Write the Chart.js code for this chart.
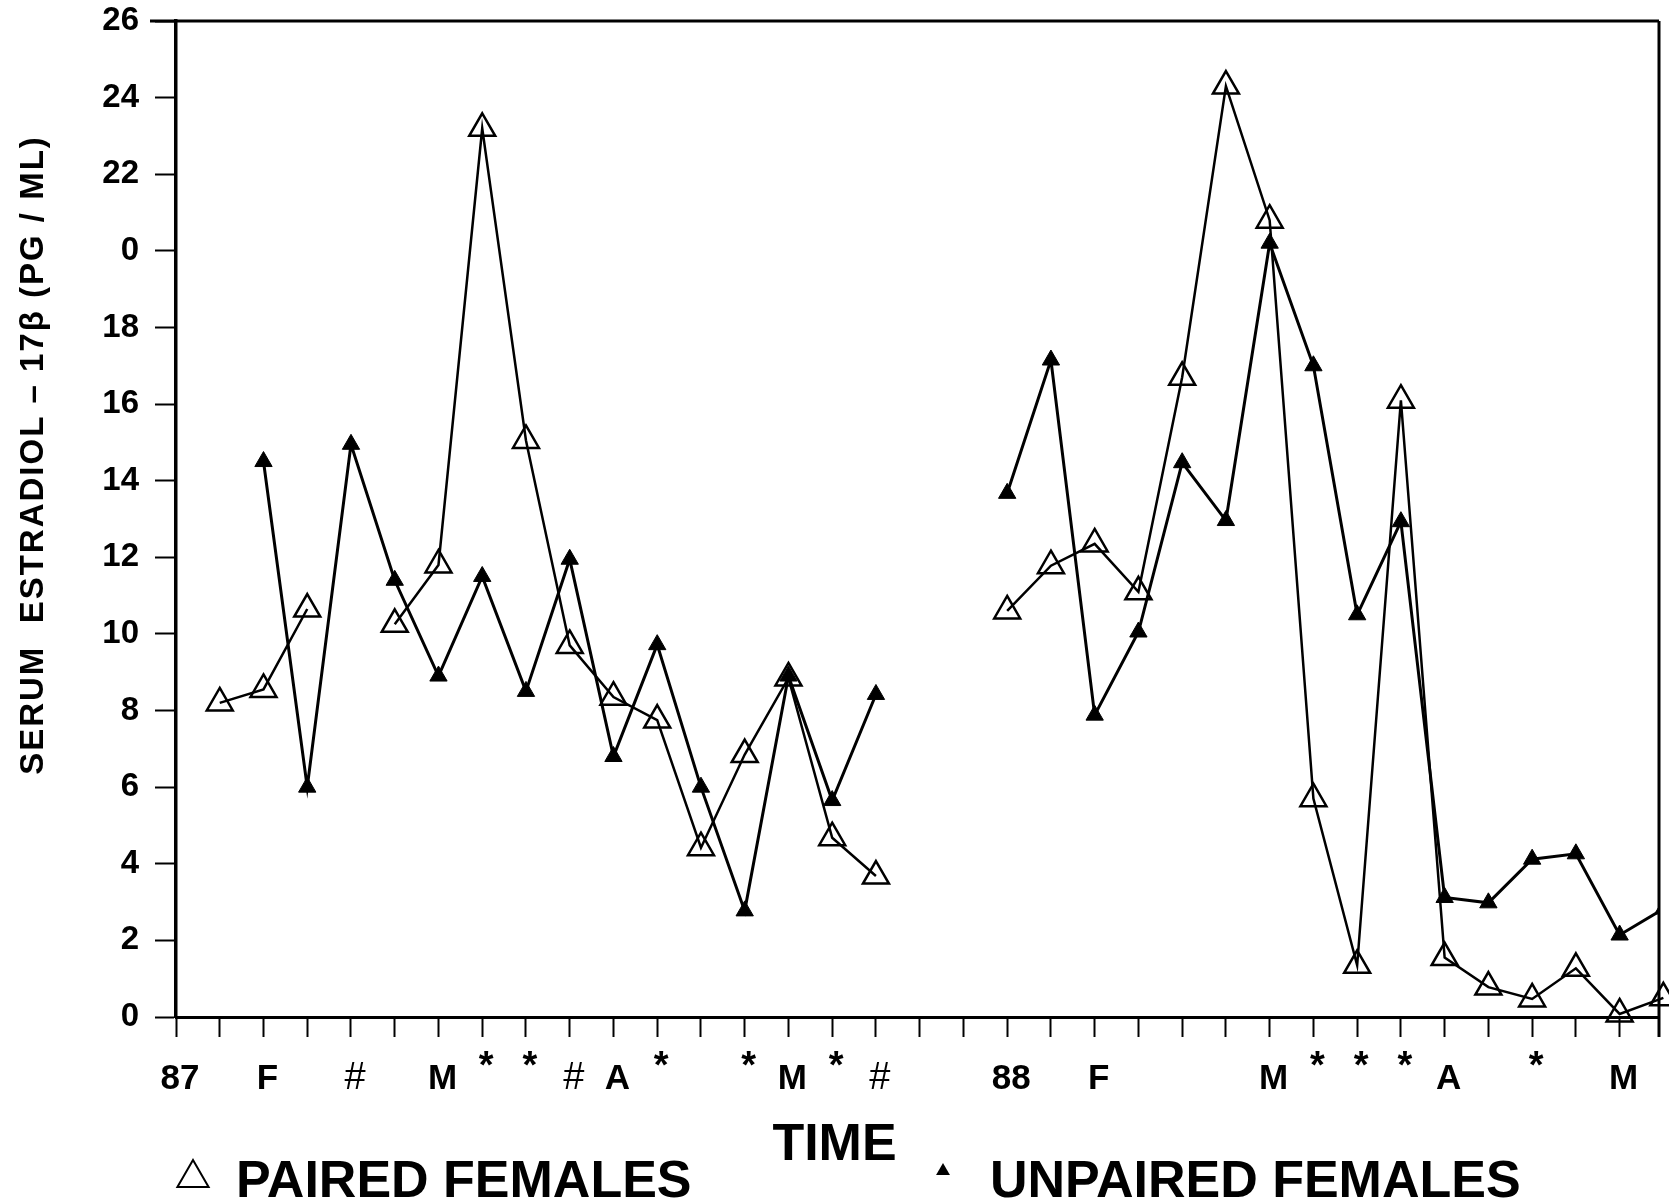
<!DOCTYPE html>
<html>
<head>
<meta charset="utf-8">
<script src="https://cdn.jsdelivr.net/npm/chart.js@4.4.1/dist/chart.umd.min.js"></script>
<style>
  html, body { margin: 0; padding: 0; background: #fff; }
  #wrap { width: 1669px; height: 1203px; }
</style>
</head>
<body>
<div id="wrap"><canvas id="estradiolChart" width="1669" height="1203"></canvas></div>
<script>
// tick labels under the time axis, one per tick (0..33)
const xTickLabels = ['87', '', 'F', '', '#', '', 'M', '*', '*', '#', 'A', '*', '', '*', 'M', '*', '#', '', '',
                     '88', '', 'F', '', '', '', 'M', '*', '*', '*', 'A', '', '*', '', 'M']
// the original figure prints "0" where 20 should be
const yTickLabels = ['0', '2', '4', '6', '8', '10', '12', '14', '16', '18', '0', '22', '24', '26']

// serum estradiol, one value per sampling tick (null = no sample)
const paired = [null, 8.2, 8.55, 10.65, null, 10.25, 11.8, 23.2, 15.05, 9.7, 8.35, 7.75, 4.42, 6.85, 8.85, 4.68, 3.68, null, null,
                10.6, 11.78, 12.35, 11.1, 16.7, 24.3, 20.8, 5.7, 1.35, 16.1, 1.55, 0.78, 0.47, 1.27, 0.08, 0.5]
const unpaired = [null, null, 14.5, 6.0, 14.95, 11.4, 8.9, 11.5, 8.5, 11.95, 6.8, 9.72, 6.0, 2.77, 8.9, 5.65, 8.42, null, null,
                  13.67, 17.15, 7.88, 10.05, 14.47, 12.96, 20.2, 17.0, 10.5, 12.93, 3.12, 2.98, 4.12, 4.26, 2.14, 2.82]

const FONT = '"Liberation Sans", Arial, Helvetica, sans-serif'
const toPoints = arr => arr.map((v, i) => ({x: i, y: v}))

//frame, time labels, axis titles and legend
const decorations = {
    id: 'decorations',
    afterDraw(chart) {
        const {ctx, chartArea: {top, right, bottom, left}} = chart
        const xs = chart.scales.x
        ctx.save()
        ctx.strokeStyle = '#000'
        ctx.fillStyle = '#000'

        // top and right border
        ctx.lineWidth = 3
        ctx.beginPath()
        ctx.moveTo(left - 26, top)
        ctx.lineTo(right, top)
        ctx.moveTo(right, top)
        ctx.lineTo(right, bottom + 20)
        ctx.stroke()

        // month / significance labels
        ctx.textAlign = 'center'
        ctx.textBaseline = 'alphabetic'
        xTickLabels.forEach((lab, i) => {
            if (!lab) return
            const x = xs.getPixelForValue(i)
            let y = bottom + 72
            if (lab === '*') {
                ctx.font = 'bold 38px ' + FONT
                y -= 11
            } else if (lab === '#') {
                ctx.font = '38px ' + FONT
            } else {
                ctx.font = 'bold 35px ' + FONT
            }
            ctx.fillText(lab, x + 4, y)
        })

        // y title
        ctx.save()
        ctx.translate(34, 455)
        ctx.rotate(-Math.PI / 2)
        ctx.font = 'bold 33px ' + FONT
        ctx.letterSpacing = '2px'
        ctx.textAlign = 'center'
        ctx.textBaseline = 'middle'
        ctx.fillText('SERUM  ESTRADIOL – 17β (PG / ML)', 0, 0)
        ctx.restore()

        // TIME
        ctx.font = 'bold 52px ' + FONT
        ctx.textAlign = 'center'
        ctx.fillText('TIME', chart.width / 2, 1160)

        // legend
        ctx.textAlign = 'left'
        ctx.fillText('PAIRED FEMALES', 236, 1197)
        ctx.fillText('UNPAIRED FEMALES', 990, 1197)
        ctx.lineWidth = 2
        ctx.fillStyle = 'rgba(0,0,0,0)'
        Chart.helpers.drawPoint(ctx, {pointStyle: 'triangle', radius: 18, borderWidth: 2, rotation: 0}, 193, 1178)
        ctx.fillStyle = '#000'
        Chart.helpers.drawPoint(ctx, {pointStyle: 'triangle', radius: 8, borderWidth: 0, rotation: 0}, 943, 1171)
        ctx.restore()
    }
}

const ctx = document.getElementById('estradiolChart')
const estradiolChart = new Chart(ctx, {
    type: 'line',
    data: {
        datasets: [{
            label: 'PAIRED FEMALES',
            data: toPoints(paired),
            borderColor: '#000',
            borderWidth: 2.5,
            backgroundColor: 'rgba(0,0,0,0)',
            pointStyle: 'triangle',
            pointRadius: 15,
            pointBorderWidth: 2.5,
            pointBorderColor: '#000',
            pointBackgroundColor: 'rgba(0,0,0,0)',
            tension: 0,
            spanGaps: false,
            clip: false,
        },
        {
            label: 'UNPAIRED FEMALES',
            data: toPoints(unpaired),
            borderColor: '#000',
            borderWidth: 3,
            backgroundColor: '#000',
            pointStyle: 'triangle',
            pointRadius: 10,
            pointBorderWidth: 1,
            pointBorderColor: '#000',
            pointBackgroundColor: '#000',
            tension: 0,
            spanGaps: false,
            clip: {left: false, top: false, right: 0, bottom: false},
        }]
    },
    options: {
        responsive: false,
        animation: false,
        events: [],
        layout: {
            autoPadding: false,
            padding: {left: 0, right: 10, top: 21, bottom: 0}
        },
        plugins: {
            legend: {display: false},
            tooltip: {enabled: false},
        },
        scales: {
            x: {
                type: 'linear',
                min: 0,
                max: 33.9,
                afterFit(scale) {
                    scale.height = 186
                    scale.paddingLeft = 0
                    scale.paddingRight = 0
                },
                ticks: {
                    stepSize: 1,
                    includeBounds: false,
                    display: false,
                },
                grid: {
                    drawOnChartArea: false,
                    drawTicks: true,
                    tickLength: 20,
                    tickWidth: 2,
                    tickColor: '#000',
                },
                border: {color: '#000', width: 3},
            },
            y: {
                min: 0,
                max: 26,
                afterFit(scale) {
                    scale.width = 176
                    scale.paddingTop = 0
                    scale.paddingBottom = 0
                },
                ticks: {
                    stepSize: 2,
                    color: '#000',
                    padding: 16,
                    font: {family: FONT, size: 33, weight: 'bold'},
                    callback: (value, i) => yTickLabels[i],
                },
                grid: {
                    drawOnChartArea: false,
                    drawTicks: true,
                    tickLength: 21,
                    tickWidth: 2,
                    tickColor: '#000',
                },
                border: {color: '#000', width: 3.5},
            }
        }
    },
    plugins: [decorations],
})
</script>
</body>
</html>
